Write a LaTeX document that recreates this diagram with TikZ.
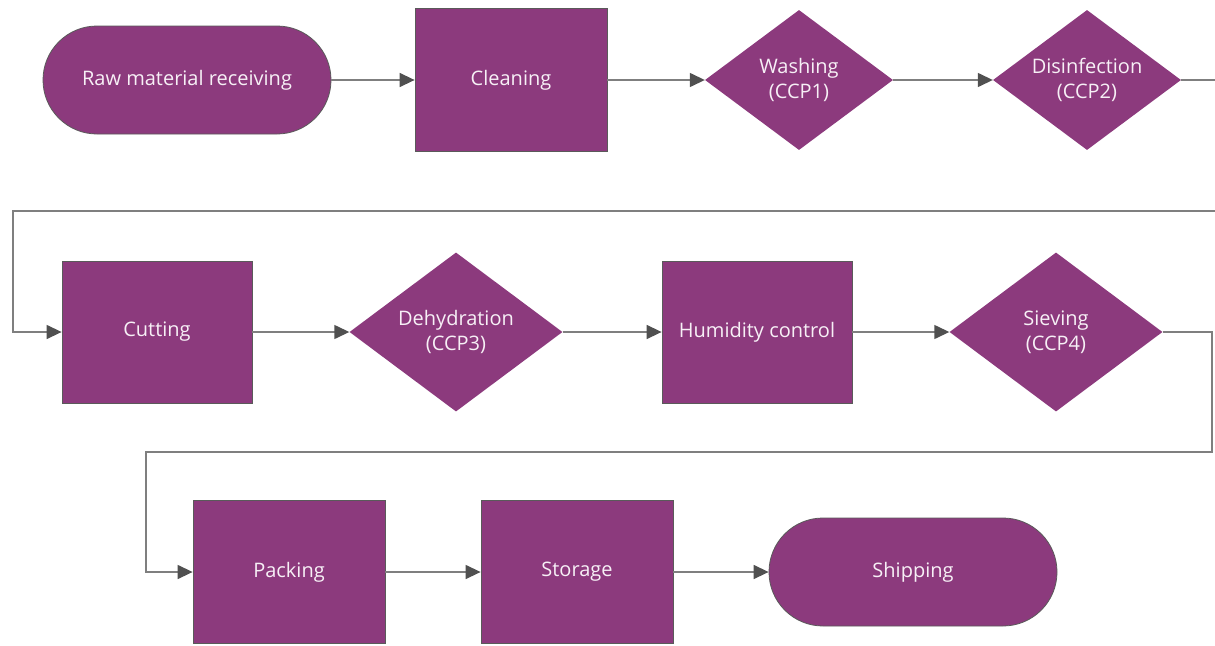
\documentclass[tikz,border=0pt]{standalone}
\usepackage{fontspec}
\setmainfont{Open Sans}
\usetikzlibrary{shapes.geometric,arrows.meta}
\definecolor{plum}{HTML}{8C3A7D}
\definecolor{edgegray}{HTML}{5A5A5A}
\definecolor{linegray}{HTML}{7F7F7F}
\definecolor{tipgray}{HTML}{505050}
\definecolor{txt}{HTML}{F7F0F6}
\tikzset{
  base/.style={fill=plum, text=txt, font=\fontsize{20}{25}\selectfont, align=center, inner sep=0pt},
  terminal/.style={base, draw=edgegray, line width=0.8pt, rectangle, rounded corners=54pt, minimum width=288pt, minimum height=108pt},
  procbox/.style={base, draw=edgegray, line width=0.8pt, rectangle, minimum width=192pt, minimum height=143pt},
  decision/.style={base, diamond, aspect=1.34},
  conn/.style={draw=linegray, line width=1.4pt, -{Triangle[length=15pt,width=14pt,color=tipgray]}}
}
\begin{document}
\begin{tikzpicture}[x=1pt,y=1pt]
\clip (0,0) rectangle (1215,-645);
\fill[white] (0,0) rectangle (1215,-645);
% row 1
\node[terminal] (raw) at (187,-80) {Raw material receiving};
\node[procbox] (clean) at (511,-80) {Cleaning};
\node[decision, minimum width=188pt, minimum height=140pt] (wash) at (799,-80) {Washing\\(CCP1)};
\node[decision, minimum width=188pt, minimum height=140pt] (dis) at (1087,-80) {Disinfection\\(CCP2)};
% row 2
\node[procbox, minimum width=190pt, minimum height=142pt] (cut) at (157,-332) {Cutting};
\node[decision, minimum width=213pt, minimum height=159pt] (dehy) at (456,-332) {Dehydration\\(CCP3)};
\node[procbox, minimum width=190pt, minimum height=142pt] (hum) at (757,-332) {Humidity control};
\node[decision, minimum width=213pt, minimum height=159pt] (siev) at (1056,-332) {Sieving\\(CCP4)};
% row 3
\node[procbox] (pack) at (289,-572) {Packing};
\node[procbox] (stor) at (577,-572) {Storage};
\node[terminal] (ship) at (913,-572) {Shipping};
% wrap coordinates
\coordinate (a1) at (1222,-80);
\coordinate (a2) at (1222,-211);
\coordinate (a3) at (13,-211);
\coordinate (a4) at (13,-332);
\coordinate (b1) at (1212,-332);
\coordinate (b2) at (1212,-452);
\coordinate (b3) at (146,-452);
\coordinate (b4) at (146,-572);
% connectors
\draw[conn] (raw) -- (clean);
\draw[conn] (clean) -- (wash);
\draw[conn] (wash) -- (dis);
\draw[conn] (dis.east) -- (a1) -- (a2) -- (a3) -- (a4) -- (cut.west);
\draw[conn] (cut) -- (dehy);
\draw[conn] (dehy) -- (hum);
\draw[conn] (hum) -- (siev);
\draw[conn] (siev.east) -- (b1) -- (b2) -- (b3) -- (b4) -- (pack.west);
\draw[conn] (pack) -- (stor);
\draw[conn] (stor) -- (ship);
\end{tikzpicture}
\end{document}
